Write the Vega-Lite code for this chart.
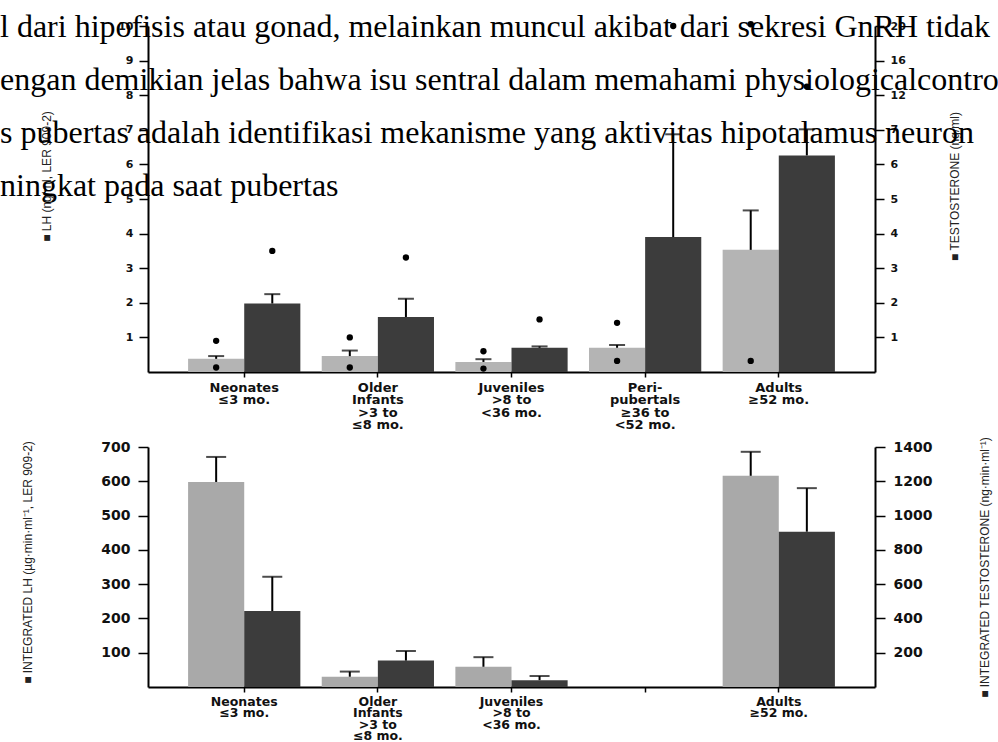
{
  "$schema": "https://vega.github.io/schema/vega-lite/v6.json",
  "background": "white",
  "padding": {"left": 0, "top": 11, "right": 0, "bottom": 0},
  "config": {
    "view": {"stroke": null},
    "axis": {"grid": false, "domainColor": "black", "domainWidth": 2, "tickColor": "black", "tickWidth": 1.5, "labelColor": "#111", "titleColor": "#222", "labelFont": "DejaVu Sans", "labelFontWeight": "bold", "titleFont": "Liberation Sans", "titleFontWeight": "normal", "titleFontSize": 12, "labelOverlap": false}
  },
  "datasets": {
    "top": [
      {"group": "Neonates|≤3 mo.", "series": "LH", "value": 0.38, "err": 0.46},
      {"group": "Neonates|≤3 mo.", "series": "T", "value": 1.98, "err": 2.25},
      {"group": "Older|Infants|>3 to|≤8 mo.", "series": "LH", "value": 0.46, "err": 0.62},
      {"group": "Older|Infants|>3 to|≤8 mo.", "series": "T", "value": 1.59, "err": 2.12},
      {"group": "Juveniles|>8 to|<36 mo.", "series": "LH", "value": 0.29, "err": 0.37},
      {"group": "Juveniles|>8 to|<36 mo.", "series": "T", "value": 0.7, "err": 0.74},
      {"group": "Peri-|pubertals|≥36 to|<52 mo.", "series": "LH", "value": 0.7, "err": 0.78},
      {"group": "Peri-|pubertals|≥36 to|<52 mo.", "series": "T", "value": 3.9, "err": 6.87},
      {"group": "Adults|≥52 mo.", "series": "LH", "value": 3.53, "err": 4.67},
      {"group": "Adults|≥52 mo.", "series": "T", "value": 6.26, "err": 7.07}
    ],
    "topdots": [
      {"group": "Neonates|≤3 mo.", "series": "LH", "dot": 0.13},
      {"group": "Neonates|≤3 mo.", "series": "LH", "dot": 0.9},
      {"group": "Older|Infants|>3 to|≤8 mo.", "series": "LH", "dot": 0.13},
      {"group": "Older|Infants|>3 to|≤8 mo.", "series": "LH", "dot": 1.0},
      {"group": "Juveniles|>8 to|<36 mo.", "series": "LH", "dot": 0.1},
      {"group": "Juveniles|>8 to|<36 mo.", "series": "LH", "dot": 0.6},
      {"group": "Peri-|pubertals|≥36 to|<52 mo.", "series": "LH", "dot": 0.32},
      {"group": "Peri-|pubertals|≥36 to|<52 mo.", "series": "LH", "dot": 1.42},
      {"group": "Adults|≥52 mo.", "series": "LH", "dot": 0.32},
      {"group": "Adults|≥52 mo.", "series": "LH", "dot": 10.05},
      {"group": "Neonates|≤3 mo.", "series": "T", "dot": 3.5},
      {"group": "Older|Infants|>3 to|≤8 mo.", "series": "T", "dot": 3.31},
      {"group": "Juveniles|>8 to|<36 mo.", "series": "T", "dot": 1.52},
      {"group": "Peri-|pubertals|≥36 to|<52 mo.", "series": "T", "dot": 20},
      {"group": "Adults|≥52 mo.", "series": "T", "dot": 13}
    ],
    "bottom": [
      {"group": "Neonates|≤3 mo.", "series": "LH", "value": 598, "err": 671},
      {"group": "Neonates|≤3 mo.", "series": "T", "value": 443, "err": 643},
      {"group": "Older|Infants|>3 to|≤8 mo.", "series": "LH", "value": 30, "err": 45},
      {"group": "Older|Infants|>3 to|≤8 mo.", "series": "T", "value": 154, "err": 210},
      {"group": "Juveniles|>8 to|<36 mo.", "series": "LH", "value": 59, "err": 87},
      {"group": "Juveniles|>8 to|<36 mo.", "series": "T", "value": 40, "err": 64},
      {"group": "Adults|≥52 mo.", "series": "LH", "value": 616, "err": 686},
      {"group": "Adults|≥52 mo.", "series": "T", "value": 906, "err": 1160}
    ]
  },
  "spacing": 4,
  "vconcat": [
    {
      "width": 727,
      "height": 346,
      "title": {
        "text": [
          "l dari hipofisis atau gonad, melainkan muncul akibat dari sekresi GnRH tidak",
          "engan demikian jelas bahwa isu sentral dalam memahami physiologicalcontrol",
          "s pubertas adalah identifikasi mekanisme yang aktivitas hipotalamus neuron",
          "ningkat pada saat pubertas"
        ],
        "anchor": "start", "frame": "group", "dx": -148, "dy": 183, "offset": 0,
        "baseline": "top", "font": "Liberation Serif", "fontSize": 32, "fontWeight": "normal",
        "color": "black", "lineHeight": 53
      },
      "resolve": {"scale": {"y": "independent"}, "axis": {"y": "independent"}},
      "layer": [
        {
          "layer": [
            {
              "data": {"name": "top"},
              "transform": [{"filter": "datum.series == 'LH'"}],
              "mark": {"type": "bar", "color": "#b4b4b4"},
              "encoding": {
                "x": {"field": "group", "type": "nominal", "title": null,
                  "scale": {"domain": ["Neonates|≤3 mo.", "Older|Infants|>3 to|≤8 mo.", "Juveniles|>8 to|<36 mo.", "Peri-|pubertals|≥36 to|<52 mo.", "Adults|≥52 mo."], "paddingInner": 0.16, "paddingOuter": 0.3},
                  "axis": {"labelExpr": "split(datum.value, '|')", "labelAngle": 0, "labelOverlap": false, "tickSize": 5, "labelPadding": 4, "labelFontSize": 13, "labelLineHeight": 12.5, "domainWidth": 2}},
                "xOffset": {"field": "series", "type": "nominal", "scale": {"domain": ["LH", "T"], "paddingInner": 0, "paddingOuter": 0}},
                "y": {"field": "value", "type": "quantitative", "scale": {"domain": [0, 10], "nice": false},
                  "axis": {"orient": "left", "values": [1, 2, 3, 4, 5, 6, 7, 8, 9, 10], "tickCount": 40, "format": "d", "labelOverlap": false, "title": "■ LH (ng/ml, LER 909-2)", "titlePadding": 64, "titleY": 150, "tickSize": 9, "labelPadding": 6, "labelFontSize": 11}}
              }
            },
            {
              "data": {"name": "top"},
              "transform": [{"filter": "datum.series == 'LH'"}],
              "mark": {"type": "rule", "color": "black", "strokeWidth": 2},
              "encoding": {
                "x": {"field": "group", "type": "nominal", "title": null},
                "xOffset": {"field": "series", "type": "nominal"},
                "y": {"field": "value", "type": "quantitative", "scale": {"domain": [0, 10], "nice": false}, "axis": {"labelOverlap": false, "tickCount": 40, "format": "d"}},
                "y2": {"field": "err"}
              }
            },
            {
              "data": {"name": "top"},
              "transform": [{"filter": "datum.series == 'LH'"}],
              "mark": {"type": "tick", "color": "black", "thickness": 2, "size": 16},
              "encoding": {
                "x": {"field": "group", "type": "nominal", "title": null},
                "xOffset": {"field": "series", "type": "nominal"},
                "y": {"field": "err", "type": "quantitative", "scale": {"domain": [0, 10], "nice": false}, "axis": {"labelOverlap": false, "tickCount": 40, "format": "d"}}
              }
            },
            {
              "data": {"name": "topdots"},
              "transform": [{"filter": "datum.series == 'LH'"}],
              "mark": {"type": "point", "filled": true, "color": "black", "size": 40, "opacity": 1},
              "encoding": {
                "x": {"field": "group", "type": "nominal", "title": null},
                "xOffset": {"field": "series", "type": "nominal"},
                "y": {"field": "dot", "type": "quantitative", "scale": {"domain": [0, 10], "nice": false}, "axis": {"labelOverlap": false, "tickCount": 40, "format": "d"}}
              }
            }
          ]
        },
        {
          "layer": [
            {
              "data": {"name": "top"},
              "transform": [{"filter": "datum.series == 'T'"}],
              "mark": {"type": "bar", "color": "#3c3c3c"},
              "encoding": {
                "x": {"field": "group", "type": "nominal", "title": null},
                "xOffset": {"field": "series", "type": "nominal"},
                "y": {"field": "value", "type": "quantitative", "scale": {"domain": [0, 7, 12, 20], "range": [346, 103.8, 69.2, 0], "nice": false, "zero": false},
                  "axis": {"orient": "right", "values": [1, 2, 3, 4, 5, 6, 7, 12, 16, 20], "tickCount": 40, "format": "d", "labelOverlap": false, "title": "■ TESTOSTERONE (ng/ml)", "titleAngle": 270, "titlePadding": 56, "titleY": 160, "tickSize": 9, "labelPadding": 6, "labelFontSize": 11}}
              }
            },
            {
              "data": {"name": "top"},
              "transform": [{"filter": "datum.series == 'T'"}],
              "mark": {"type": "rule", "color": "black", "strokeWidth": 2},
              "encoding": {
                "x": {"field": "group", "type": "nominal", "title": null},
                "xOffset": {"field": "series", "type": "nominal"},
                "y": {"field": "value", "type": "quantitative", "scale": {"domain": [0, 7, 12, 20], "range": [346, 103.8, 69.2, 0], "nice": false, "zero": false}, "axis": {"labelOverlap": false, "tickCount": 40, "format": "d"}},
                "y2": {"field": "err"}
              }
            },
            {
              "data": {"name": "top"},
              "transform": [{"filter": "datum.series == 'T'"}],
              "mark": {"type": "tick", "color": "black", "thickness": 2, "size": 16},
              "encoding": {
                "x": {"field": "group", "type": "nominal", "title": null},
                "xOffset": {"field": "series", "type": "nominal"},
                "y": {"field": "err", "type": "quantitative", "scale": {"domain": [0, 7, 12, 20], "range": [346, 103.8, 69.2, 0], "nice": false, "zero": false}, "axis": {"labelOverlap": false, "tickCount": 40, "format": "d"}}
              }
            },
            {
              "data": {"name": "topdots"},
              "transform": [{"filter": "datum.series == 'T'"}],
              "mark": {"type": "point", "filled": true, "color": "black", "size": 40, "opacity": 1},
              "encoding": {
                "x": {"field": "group", "type": "nominal", "title": null},
                "xOffset": {"field": "series", "type": "nominal"},
                "y": {"field": "dot", "type": "quantitative", "scale": {"domain": [0, 7, 12, 20], "range": [346, 103.8, 69.2, 0], "nice": false, "zero": false}, "axis": {"labelOverlap": false, "tickCount": 40, "format": "d"}}
              }
            }
          ]
        }
      ]
    },
    {
      "width": 727,
      "height": 240,
      "resolve": {"scale": {"y": "independent"}, "axis": {"y": "independent"}},
      "layer": [
        {
          "data": {"name": "bottom"},
          "transform": [{"filter": "datum.series == 'LH'"}],
          "layer": [
            {
              "mark": {"type": "bar", "color": "#a9a9a9"},
              "encoding": {
                "x": {"field": "group", "type": "nominal", "title": null,
                  "scale": {"domain": ["Neonates|≤3 mo.", "Older|Infants|>3 to|≤8 mo.", "Juveniles|>8 to|<36 mo.", "Peri-|pubertals|≥36 to|<52 mo.", "Adults|≥52 mo."], "paddingInner": 0.16, "paddingOuter": 0.3},
                  "axis": {"labelExpr": "indexof(datum.value, 'Peri') == 0 ? '' : split(datum.value, '|')", "labelAngle": 0, "labelOverlap": false, "tickSize": 5, "labelPadding": 3, "labelFontSize": 12.5, "labelLineHeight": 11.5, "domainWidth": 2}},
                "xOffset": {"field": "series", "type": "nominal", "scale": {"domain": ["LH", "T"], "paddingInner": 0, "paddingOuter": 0}},
                "y": {"field": "value", "type": "quantitative", "scale": {"domain": [0, 700], "nice": false},
                  "axis": {"orient": "left", "values": [100, 200, 300, 400, 500, 600, 700], "tickCount": 40, "labelOverlap": false, "format": "d", "title": "■ INTEGRATED LH (µg·min·ml⁻¹, LER 909-2)", "titlePadding": 66, "titleY": 115, "tickSize": 10, "labelPadding": 8, "labelFontSize": 14}}
              }
            },
            {
              "mark": {"type": "rule", "color": "black", "strokeWidth": 2},
              "encoding": {
                "x": {"field": "group", "type": "nominal", "title": null},
                "xOffset": {"field": "series", "type": "nominal"},
                "y": {"field": "value", "type": "quantitative", "scale": {"domain": [0, 700], "nice": false}, "axis": {"labelOverlap": false, "tickCount": 40, "format": "d"}},
                "y2": {"field": "err"}
              }
            },
            {
              "mark": {"type": "tick", "color": "black", "thickness": 2, "size": 20},
              "encoding": {
                "x": {"field": "group", "type": "nominal", "title": null},
                "xOffset": {"field": "series", "type": "nominal"},
                "y": {"field": "err", "type": "quantitative", "scale": {"domain": [0, 700], "nice": false}, "axis": {"labelOverlap": false, "tickCount": 40, "format": "d"}}
              }
            }
          ]
        },
        {
          "data": {"name": "bottom"},
          "transform": [{"filter": "datum.series == 'T'"}],
          "layer": [
            {
              "mark": {"type": "bar", "color": "#3c3c3c"},
              "encoding": {
                "x": {"field": "group", "type": "nominal", "title": null},
                "xOffset": {"field": "series", "type": "nominal"},
                "y": {"field": "value", "type": "quantitative", "scale": {"domain": [0, 1400], "nice": false},
                  "axis": {"orient": "right", "values": [200, 400, 600, 800, 1000, 1200, 1400], "tickCount": 40, "labelOverlap": false, "format": "d", "title": "■ INTEGRATED TESTOSTERONE (ng·min·ml⁻¹)", "titleAngle": 270, "titlePadding": 60, "titleY": 120, "tickSize": 10, "labelPadding": 8, "labelFontSize": 14}}
              }
            },
            {
              "mark": {"type": "rule", "color": "black", "strokeWidth": 2},
              "encoding": {
                "x": {"field": "group", "type": "nominal", "title": null},
                "xOffset": {"field": "series", "type": "nominal"},
                "y": {"field": "value", "type": "quantitative", "scale": {"domain": [0, 1400], "nice": false}, "axis": {"labelOverlap": false, "tickCount": 40, "format": "d"}},
                "y2": {"field": "err"}
              }
            },
            {
              "mark": {"type": "tick", "color": "black", "thickness": 2, "size": 20},
              "encoding": {
                "x": {"field": "group", "type": "nominal", "title": null},
                "xOffset": {"field": "series", "type": "nominal"},
                "y": {"field": "err", "type": "quantitative", "scale": {"domain": [0, 1400], "nice": false}, "axis": {"labelOverlap": false, "tickCount": 40, "format": "d"}}
              }
            }
          ]
        }
      ]
    }
  ]
}
